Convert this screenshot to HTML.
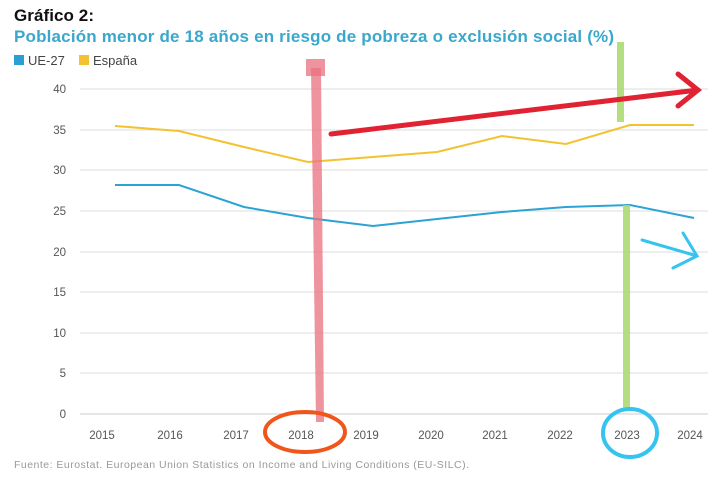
<!DOCTYPE html><html><head><style>body{margin:0;background:#fff}svg{display:block}</style></head><body>
<svg width="720" height="478" xmlns="http://www.w3.org/2000/svg" font-family="Liberation Sans, DejaVu Sans, sans-serif">
<rect width="720" height="478" fill="#fff"/>
<text x="14" y="21" font-size="17" font-weight="bold" fill="#111" textLength="80">Gráfico 2:</text>
<text x="14" y="42" font-size="17" font-weight="bold" fill="#3aa8cc" textLength="600">Población menor de 18 años en riesgo de pobreza o exclusión social (%)</text>
<rect x="14" y="55" width="10" height="10" fill="#2b9fd4"/><text x="28" y="65" font-size="13" fill="#444">UE-27</text>
<rect x="79" y="55" width="10" height="10" fill="#f2c230"/><text x="93" y="65" font-size="13" fill="#444">España</text>
<g stroke="#ddd" stroke-width="1">
<line x1="80" y1="89" x2="708" y2="89"/><line x1="80" y1="130" x2="708" y2="130"/><line x1="80" y1="170" x2="708" y2="170"/><line x1="80" y1="211" x2="708" y2="211"/><line x1="80" y1="252" x2="708" y2="252"/><line x1="80" y1="292" x2="708" y2="292"/><line x1="80" y1="333" x2="708" y2="333"/><line x1="80" y1="373" x2="708" y2="373"/><line x1="80" y1="414" x2="708" y2="414" stroke="#ccc"/></g>
<g font-size="11.5" fill="#555" text-anchor="end">
<text x="66" y="93">40</text><text x="66" y="134">35</text><text x="66" y="174">30</text><text x="66" y="215">25</text><text x="66" y="256">20</text><text x="66" y="296">15</text><text x="66" y="337">10</text><text x="66" y="377">5</text><text x="66" y="418">0</text></g>
<g font-size="11.5" fill="#555" text-anchor="middle">
<text x="102" y="439">2015</text><text x="170" y="439">2016</text><text x="236" y="439">2017</text><text x="301" y="439">2018</text><text x="366" y="439">2019</text><text x="431" y="439">2020</text><text x="495" y="439">2021</text><text x="560" y="439">2022</text><text x="627" y="439">2023</text><text x="690" y="439">2024</text></g>
<polyline fill="none" stroke="#f2c230" stroke-width="2" points="115,126 179,131 244,147 308,162 373,157 437,152 502,136 566,144 630,125 694,125"/>
<polyline fill="none" stroke="#2ba3d4" stroke-width="2" points="115,185 179,185 244,207 308,218 373,226 437,219 502,212 566,207 630,205 694,218"/>
<text x="14" y="468" font-size="10.5" fill="#999" textLength="455">Fuente: Eurostat. European Union Statistics on Income and Living Conditions (EU-SILC).</text>
<rect x="306" y="59" width="19" height="17" fill="#e9707f" opacity="0.75"/>
<polygon points="311,68 321,68 324,422 316,422" fill="#e9707f" opacity="0.75"/>
<rect x="617" y="42" width="7" height="80" fill="#a8d86a" opacity="0.85"/>
<rect x="623" y="205" width="7" height="205" fill="#a8d86a" opacity="0.85"/>
<g stroke="#e02233" stroke-width="5" fill="none" stroke-linecap="round"><line x1="331" y1="134" x2="698" y2="90"/><polyline points="678,74 698,90 678,106"/></g>
<g stroke="#35c3f0" stroke-width="3" fill="none" stroke-linecap="round"><line x1="642" y1="240" x2="697" y2="256"/><polyline points="683,233 697,256 673,268"/></g>
<ellipse cx="305" cy="432" rx="40" ry="20" fill="none" stroke="#f0561c" stroke-width="4"/>
<ellipse cx="630" cy="433" rx="27" ry="24" fill="none" stroke="#35c3f0" stroke-width="4"/>
</svg></body></html>
